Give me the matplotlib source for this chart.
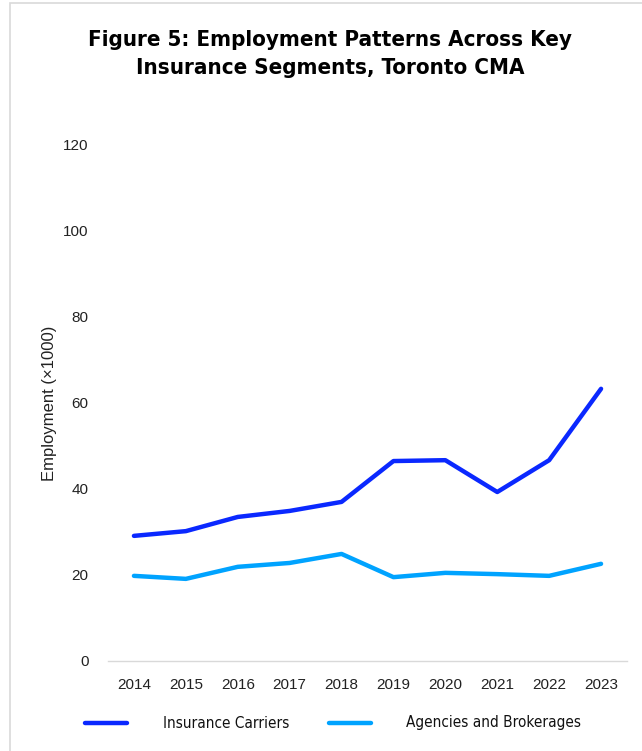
import matplotlib
matplotlib.use('Agg')
import matplotlib.pyplot as plt
from matplotlib.patches import Rectangle
from matplotlib.lines import Line2D

years = ['2014', '2015', '2016', '2017', '2018', '2019', '2020', '2021', '2022', '2023']
carriers = [29.1, 30.2, 33.5, 34.9, 37.0, 46.5, 46.7, 39.3, 46.7, 63.3]
agencies = [19.8, 19.1, 21.9, 22.8, 24.9, 19.5, 20.5, 20.2, 19.8, 22.6]
yticks = [0, 20, 40, 60, 80, 100, 120]

c_dark = '#0A28FF'
c_light = '#00A3FF'

plt.rcParams['font.family'] = ['Liberation Sans', 'DejaVu Sans']

fig = plt.figure(figsize=(6.42, 7.51), dpi=100)
fig.patches.append(Rectangle((10 / 642, -0.01), 1.0, 1 - 3 / 751 + 0.01,
                             transform=fig.transFigure, fill=False,
                             edgecolor='#d9d9d9', linewidth=1.2))

ax = fig.add_axes([108 / 642, 1 - 661 / 751, (627 - 108) / 642, (661 - 145) / 751])
x = range(len(years))
ax.plot(x, carriers, color=c_dark, lw=3.2, solid_capstyle='round', solid_joinstyle='round')
ax.plot(x, agencies, color=c_light, lw=3.2, solid_capstyle='round', solid_joinstyle='round')

ax.set_xlim(-0.5, len(years) - 0.5)
ax.set_ylim(0, 120)
ax.set_xticks(list(x))
ax.set_xticklabels(years)
ax.set_yticks(yticks)
ax.tick_params(length=0, labelsize=11, colors='#222222')
ax.tick_params(axis='y', pad=14)
ax.tick_params(axis='x', pad=12)
for s in ['top', 'right', 'left']:
    ax.spines[s].set_visible(False)
ax.spines['bottom'].set_color('#d9d9d9')
ax.spines['bottom'].set_linewidth(1.0)
ax.set_ylabel('Employment (\u00d71000)', fontsize=12, color='#222222', labelpad=4)

fig.text(330 / 642, 1 - 54 / 751,
         'Figure 5: Employment Patterns Across Key\nInsurance Segments, Toronto CMA',
         ha='center', va='center', fontsize=16, fontweight='bold', fontstretch='condensed',
         family=['DejaVu Sans'], linespacing=1.45)

# legend drawn by hand to match spacing
ly = 1 - 723 / 751
fig.add_artist(Line2D([85 / 642, 127 / 642], [ly, ly], color=c_dark, lw=3.2,
                      solid_capstyle='round', transform=fig.transFigure))
fig.add_artist(Line2D([329 / 642, 371 / 642], [ly, ly], color=c_light, lw=3.2,
                      solid_capstyle='round', transform=fig.transFigure))
fig.text(163 / 642, ly, 'Insurance Carriers', ha='left', va='center', fontsize=11,
         fontstretch='condensed', family=['DejaVu Sans'], color='#111111')
fig.text(406 / 642, ly, 'Agencies and Brokerages', ha='left', va='center', fontsize=11,
         fontstretch='condensed', family=['DejaVu Sans'], color='#111111')

plt.savefig('out.png', dpi=100)
